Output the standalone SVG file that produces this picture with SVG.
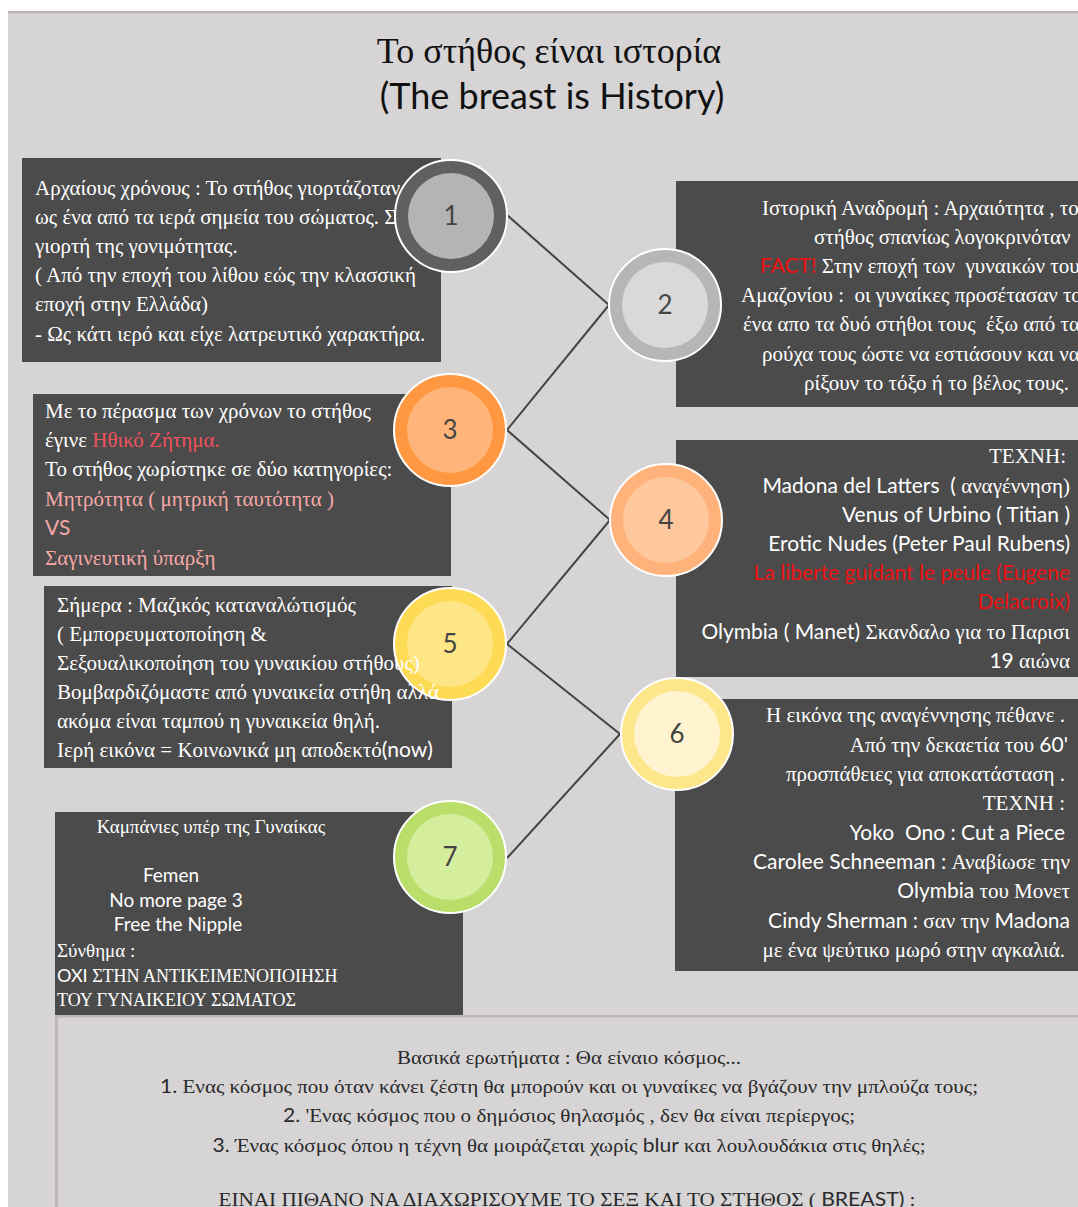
<svg xmlns="http://www.w3.org/2000/svg" width="1078" height="1207" viewBox="0 0 1078 1207">
<style>
.bg{fill:#d6d4d5}
.box{fill:#4b4b4b}
.t{font-family:"Liberation Serif","DejaVu Serif",serif;font-size:21px;fill:#ffffff;white-space:pre}
.s{font-family:Lato,"Liberation Sans",sans-serif}
.k{font-size:19px}
.k2{font-size:18px}
.red{fill:#ee1111}
.pink{fill:#f6a8a8}
.num{font-family:Lato,"Liberation Sans",sans-serif;font-size:26px;fill:#454545;text-anchor:middle}
.r{text-anchor:end}
.m{text-anchor:middle}
.conn{stroke:#444444;stroke-width:2;fill:none}
.ring{stroke:#ffffff;stroke-width:2}
.bt{font-family:"Liberation Serif","DejaVu Serif",serif;font-size:19px;fill:#2a2a2a;text-anchor:middle}
</style>
<rect x="0" y="0" width="1078" height="1207" fill="#ffffff"/>
<rect class="bg" x="8" y="11" width="1070" height="1196"/>
<rect x="8" y="11" width="1070" height="2.5" fill="#bdb5b5"/>

<g id="title">
<text x="549" y="63" text-anchor="middle" font-family="Liberation Serif, serif" font-size="36" fill="#111">Το στήθος είναι ιστορία</text>
<text x="552" y="109" text-anchor="middle" font-family="Lato, Liberation Sans, sans-serif" font-size="36" fill="#111">(The breast is History)</text>
</g>

<g id="connectors">
<line class="conn" x1="507" y1="215" x2="609" y2="305"/>
<line class="conn" x1="507" y1="430" x2="609" y2="305"/>
<line class="conn" x1="507" y1="430" x2="610" y2="520"/>
<line class="conn" x1="507" y1="644" x2="610" y2="520"/>
<line class="conn" x1="507" y1="644" x2="620" y2="734"/>
<line class="conn" x1="507" y1="858" x2="620" y2="734"/>
</g>

<g id="box1">
<rect class="box" x="22" y="158" width="419" height="204"/>
<text class="t" x="35" y="195">Αρχαίους χρόνους : Το στήθος γιορτάζοταν</text>
<text class="t" x="35" y="224">ως ένα από τα ιερά σημεία του σώματος. Σ</text>
<text class="t" x="35" y="253">γιορτή της γονιμότητας.</text>
<text class="t" x="35" y="282">( Από την εποχή του λίθου εώς την κλασσική</text>
<text class="t" x="35" y="311">εποχή στην Ελλάδα)</text>
<text class="t" x="35" y="341">- Ως κάτι ιερό και είχε λατρευτικό χαρακτήρα.</text>
</g>

<g id="box2">
<rect class="box" x="676" y="181" width="402" height="226"/>
<text class="t" x="762" y="215">Ιστορική Αναδρομή : Αρχαιότητα , το</text>
<text class="t" x="814" y="244">στήθος σπανίως λογοκρινόταν</text>
<text class="t" x="760" y="273"><tspan class="s red">FACT!</tspan> Στην εποχή των  γυναικών του</text>
<text class="t" x="741" y="302">Αμαζονίου :  οι γυναίκες προσέτασαν το</text>
<text class="t" x="743" y="331">ένα απο τα δυό στήθοι τους  έξω από τα</text>
<text class="t" x="762" y="361">ρούχα τους ώστε να εστιάσουν και να</text>
<text class="t" x="804" y="390">ρίξουν το τόξο ή το βέλος τους.</text>
</g>

<g id="box3">
<rect class="box" x="33" y="394" width="418" height="182"/>
<text class="t" x="45" y="418">Με το πέρασμα των χρόνων το στήθος</text>
<text class="t" x="45" y="447">έγινε <tspan style="fill:#f0525d">Ηθικό Ζήτημα.</tspan></text>
<text class="t" x="45" y="476">Το στήθος χωρίστηκε σε δύο κατηγορίες:</text>
<text class="t pink" x="45" y="506">Μητρότητα ( μητρική ταυτότητα )</text>
<text class="t s pink" x="45" y="535">VS</text>
<text class="t pink" x="45" y="565">Σαγινευτική ύπαρξη</text>
</g>

<g id="box4">
<rect class="box" x="676" y="440" width="402" height="237"/>
<text class="t r" x="1066" y="463">ΤΕΧΝΗ:</text>
<text class="t r" x="1070" y="493"><tspan class="s">Madona del Latters  (</tspan> αναγέννηση)</text>
<text class="t s r" x="1070" y="522">Venus of Urbino ( Titian )</text>
<text class="t s r" x="1070" y="551">Erotic Nudes (Peter Paul Rubens)</text>
<text class="t s r red" x="1070" y="580">La liberte guidant le peule (Eugene</text>
<text class="t s r red" x="1070" y="609">Delacroix)</text>
<text class="t r" x="1070" y="639"><tspan class="s">Olymbia ( Manet)</tspan> Σκανδαλο για το Παρισι</text>
<text class="t r" x="1070" y="668"><tspan class="s">19</tspan> αιώνα</text>
</g>

<g id="box5">
<rect class="box" x="44" y="586" width="408" height="182"/>
</g>

<g id="box6">
<rect class="box" x="675" y="699" width="403" height="272"/>
<text class="t r" x="1065" y="722">Η εικόνα της αναγέννησης πέθανε .</text>
<text class="t r" x="1068" y="752">Από την δεκαετία του <tspan class="s">60'</tspan></text>
<text class="t r" x="1065" y="781">προσπάθειες για αποκατάσταση .</text>
<text class="t r" x="1065" y="810">ΤΕΧΝΗ :</text>
<text class="t s r" x="1065" y="840">Yoko  Ono : Cut a Piece</text>
<text class="t r" x="1070" y="869"><tspan class="s">Carolee Schneeman :</tspan> Αναβίωσε την</text>
<text class="t r" x="1070" y="898"><tspan class="s">Olymbia</tspan> του Μονετ</text>
<text class="t r" x="1070" y="928"><tspan class="s">Cindy Sherman :</tspan> σαν την <tspan class="s">Madona</tspan></text>
<text class="t r" x="1065" y="957">με ένα ψεύτικο μωρό στην αγκαλιά.</text>
</g>

<g id="box7">
<rect class="box" x="55" y="812" width="408" height="203"/>
<text class="t k m" x="211" y="833">Καμπάνιες υπέρ της Γυναίκας</text>
<text class="t s k m" x="171" y="882">Femen</text>
<text class="t s k m" x="176" y="907">No more page 3</text>
<text class="t s k m" x="178" y="931">Free the Nipple</text>
<text class="t k" x="57" y="957">Σύνθημα :</text>
<text class="t k2" x="57" y="982"><tspan class="s">ΟΧΙ</tspan> ΣΤΗΝ ΑΝΤΙΚΕΙΜΕΝΟΠΟΙΗΣΗ</text>
<text class="t k2" x="57" y="1006">ΤΟΥ ΓΥΝΑΙΚΕΙΟΥ ΣΩΜΑΤΟΣ</text>
</g>

<g id="node1"><circle class="ring" cx="451" cy="216" r="56" fill="#606060"/><circle cx="451" cy="216" r="43" fill="#b4b4b4"/><text class="num" x="451" y="225">1</text></g>
<g id="node2"><circle class="ring" cx="665" cy="305" r="56" fill="#b6b6b6"/><circle cx="665" cy="305" r="43" fill="#d9d9d9"/><text class="num" x="665" y="314">2</text></g>
<g id="node3"><circle class="ring" cx="450" cy="430" r="56" fill="#ff9840"/><circle cx="450" cy="430" r="43" fill="#ffb479"/><text class="num" x="450" y="439">3</text></g>
<g id="node4"><circle class="ring" cx="666" cy="520" r="56" fill="#ffb37b"/><circle cx="666" cy="520" r="43" fill="#fec79c"/><text class="num" x="666" y="529">4</text></g>
<g id="node5"><circle class="ring" cx="450" cy="644" r="56" fill="#fedb55"/><circle cx="450" cy="644" r="43" fill="#fee686"/><text class="num" x="450" y="653">5</text></g>
<g id="node6"><circle class="ring" cx="677" cy="734" r="56" fill="#fee68a"/><circle cx="677" cy="734" r="43" fill="#fff4cf"/><text class="num" x="677" y="743">6</text></g>
<g id="node7"><circle class="ring" cx="450" cy="857" r="56" fill="#b9de6a"/><circle cx="450" cy="857" r="43" fill="#d4ee9e"/><text class="num" x="450" y="866">7</text></g>

<g id="box5text">
<text class="t" x="57" y="612">Σήμερα : Μαζικός καταναλώτισμός</text>
<text class="t" x="57" y="641">( Εμπορευματοποίηση &amp;</text>
<text class="t" x="57" y="670">Σεξουαλικοποίηση του γυναικίου στήθους)</text>
<text class="t" x="57" y="699">Βομβαρδιζόμαστε από γυναικεία στήθη αλλά</text>
<text class="t" x="57" y="728">ακόμα είναι ταμπού η γυναικεία θηλή.</text>
<text class="t" x="57" y="757">Ιερή εικόνα = Κοινωνικά μη αποδεκτό<tspan class="s">(now)</tspan></text>
</g>

<g id="questions">
<rect x="55" y="1015" width="1023" height="2.5" fill="#c0b8b8"/>
<rect x="55" y="1015" width="3" height="192" fill="#c0b8b8"/>
<text class="bt" x="569" y="1064" textLength="344" lengthAdjust="spacingAndGlyphs">Βασικά ερωτήματα : Θα είναιο κόσμος...</text>
<text class="bt" x="569" y="1093" textLength="818" lengthAdjust="spacingAndGlyphs"><tspan class="s">1.</tspan> Ενας κόσμος που όταν κάνει ζέστη θα μπορούν και οι γυναίκες να βγάζουν την μπλούζα τους;</text>
<text class="bt" x="569" y="1122" textLength="572" lengthAdjust="spacingAndGlyphs"><tspan class="s">2.</tspan> 'Ενας κόσμος που ο δημόσιος θηλασμός , δεν θα είναι περίεργος;</text>
<text class="bt" x="569" y="1152" textLength="713" lengthAdjust="spacingAndGlyphs"><tspan class="s">3.</tspan> Ένας κόσμος όπου η τέχνη θα μοιράζεται χωρίς <tspan class="s">blur</tspan> και λουλουδάκια στις θηλές;</text>
<text class="bt" x="567" y="1206" textLength="697" lengthAdjust="spacingAndGlyphs">ΕΙΝΑΙ ΠΙΘΑΝΟ ΝΑ ΔΙΑΧΩΡΙΣΟΥΜΕ ΤΟ ΣΕΞ ΚΑΙ ΤΟ ΣΤΗΘΟΣ ( <tspan class="s">BREAST)</tspan> :</text>
</g>
</svg>
